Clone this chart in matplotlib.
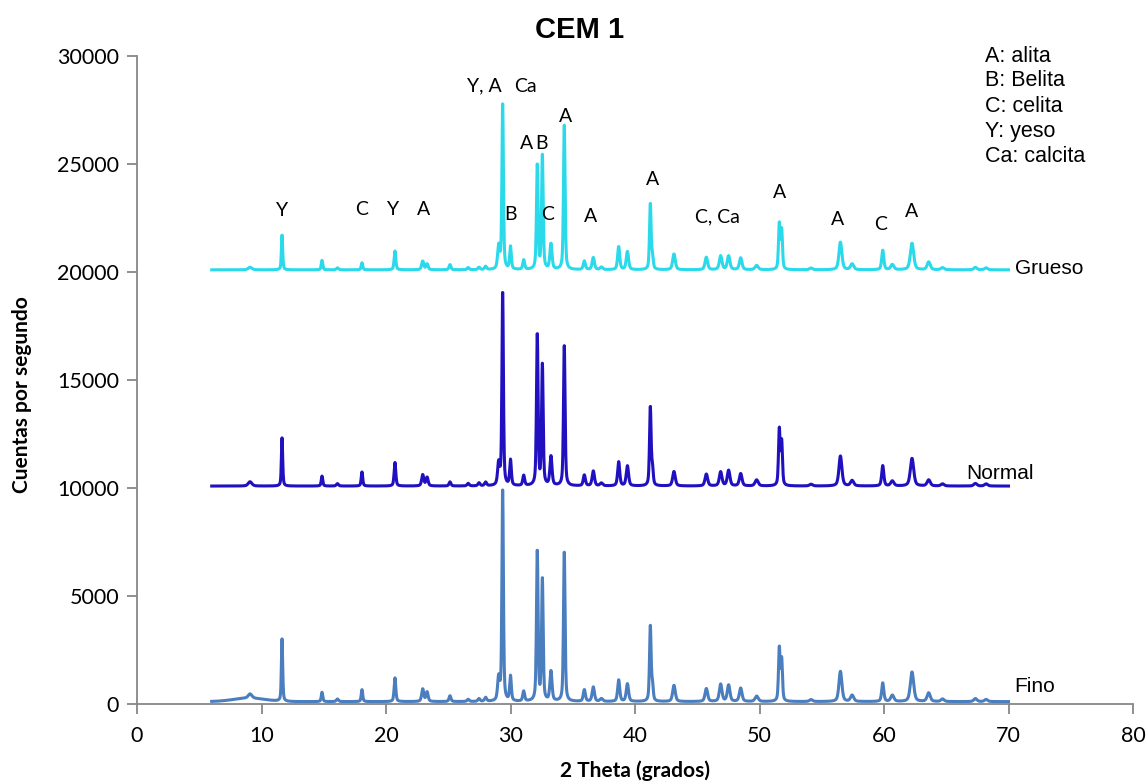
import numpy as np
import matplotlib
matplotlib.use("Agg")
import matplotlib.pyplot as plt

# --- diffraction peaks read for each sample (2theta in degrees, counts above background) ---
peak_pos = [9.08, 11.65, 14.86, 16.1, 18.07, 20.72, 22.95, 23.3, 25.14, 26.6, 27.47, 28.0,
            29.05, 29.37, 30.0, 31.06, 32.15, 32.56, 33.25, 34.32, 35.93, 36.65, 37.3,
            38.69, 39.39, 41.23, 41.4, 43.13, 45.73, 46.88, 47.52, 48.49, 49.77,
            51.59, 51.78, 54.14, 56.5, 57.44, 59.9, 60.67, 62.25, 63.59, 64.7, 67.34, 68.2]
peak_fwhm = [0.35, 0.12, 0.14, 0.2, 0.14, 0.16, 0.2, 0.2, 0.18, 0.2, 0.2, 0.2,
             0.2, 0.14, 0.16, 0.18, 0.15, 0.15, 0.2, 0.15, 0.2, 0.22, 0.25,
             0.2, 0.22, 0.15, 0.15, 0.25, 0.25, 0.25, 0.25, 0.25, 0.3,
             0.15, 0.15, 0.3, 0.28, 0.3, 0.2, 0.3, 0.32, 0.3, 0.3, 0.3, 0.3]

fino_h = [200, 2950, 430, 120, 560, 1100, 580, 440, 270, 100, 130, 180,
          1050, 9900, 1150, 460, 7000, 5600, 1380, 6900, 540, 670, 130,
          1000, 820, 3500, 700, 750, 600, 800, 760, 620, 250,
          2450, 1900, 90, 1400, 290, 860, 290, 1370, 400, 120, 140, 100]
normal_h = [200, 2280, 460, 110, 660, 1090, 520, 400, 190, 120, 140, 170,
            1000, 9050, 1180, 470, 7050, 5550, 1350, 6480, 500, 690, 130,
            1120, 930, 3650, 750, 670, 550, 650, 720, 570, 280,
            2600, 2000, 80, 1390, 250, 940, 230, 1280, 280, 100, 120, 100]
grueso_h = [120, 1640, 440, 90, 330, 870, 400, 270, 240, 100, 110, 150,
            1050, 7750, 1050, 440, 4870, 5250, 1180, 6680, 400, 560, 120,
            1070, 840, 3050, 560, 730, 580, 640, 640, 550, 200,
            2100, 1800, 80, 1280, 270, 900, 240, 1230, 360, 100, 110, 90]

baselines = {"Fino": 110, "Normal": 10090, "Grueso": 20100}
series_heights = {"Fino": fino_h, "Normal": normal_h, "Grueso": grueso_h}
series_colors = {"Fino": "#4A7EBF", "Normal": "#2010C0", "Grueso": "#2AD9EA"}

# broad amorphous background hump at low angle: (center, fwhm, height)
fino_hump = (9.0, 3.0, 160)

# phase labels: (text, 2theta, counts)
phase_labels = [("Y", 11.65, 22870), ("C", 18.0, 22900), ("Y", 20.6, 22900), ("A", 23.05, 22900),
                ("Y, A", 27.9, 28600), ("Ca", 31.2, 28600), ("A", 31.3, 25970), ("B", 32.5, 25970),
                ("A", 34.46, 27220), ("B", 29.96, 22680), ("C", 33.0, 22680), ("A", 36.4, 22590),
                ("A", 41.45, 24260), ("C, Ca", 46.6, 22550), ("A", 51.6, 23700),
                ("A", 56.3, 22450), ("C", 59.7, 22220), ("A", 62.2, 22820)]
phase_key = ["A: alita", "B: Belita", "C: celita", "Y: yeso", "Ca: calcita"]
series_tags = [("Grueso", 70.5, 20150), ("Normal", 66.6, 10690), ("Fino", 70.5, 830)]

x_ticks = [0, 10, 20, 30, 40, 50, 60, 70, 80]
y_ticks = [0, 5000, 10000, 15000, 20000, 25000, 30000]


def pattern(two_theta, heights, base, hump=None):
    y = np.full_like(two_theta, float(base))
    for c, w, h in zip(peak_pos, peak_fwhm, heights):
        d = (two_theta - c) / w
        lor = 1.0 / (1.0 + 4.0 * d * d)
        gau = np.exp(-4.0 * np.log(2) * d * d)
        y += h * (0.5 * lor + 0.5 * gau)
    if hump is not None:
        c, w, h = hump
        y += h * np.exp(-4.0 * np.log(2) * ((two_theta - c) / w) ** 2)
    return y


two_theta = np.linspace(6, 70, 3201)

W, H = 1147, 782
fig = plt.figure(figsize=(W / 100, H / 100), dpi=100)
ax = fig.add_axes([137 / W, 1 - 704 / H, (1133 - 137) / W, (704 - 56) / H])

for name in ["Fino", "Normal", "Grueso"]:
    hump = fino_hump if name == "Fino" else None
    ax.plot(two_theta, pattern(two_theta, series_heights[name], baselines[name], hump),
            color=series_colors[name], lw=2.2, solid_joinstyle="round")

ax.set_xlim(0, 80)
ax.set_ylim(0, 30000)
ax.set_xticks(x_ticks)
ax.set_yticks(y_ticks)
ax.set_xticklabels([str(v) for v in x_ticks])
ax.set_yticklabels([str(v) for v in y_ticks])

for s in ["top", "right"]:
    ax.spines[s].set_visible(False)
for s in ["left", "bottom"]:
    ax.spines[s].set_color("#878787")
    ax.spines[s].set_linewidth(1.3)
ax.tick_params(axis="both", direction="out", length=7, width=1.3, color="#878787",
               labelsize=15.5, labelcolor="black")
ax.tick_params(axis="y", pad=6)
ax.tick_params(axis="x", pad=9)
for lab in ax.get_xticklabels() + ax.get_yticklabels():
    lab.set_family("Lato")

fig.text(635 / W, 1 - 771 / H, "2 Theta (grados)", ha="center", va="center",
         fontsize=15, fontweight="bold", family="Lato")
fig.text(22 / W, 1 - 395 / H, "Cuentas por segundo", ha="center", va="center",
         rotation=90, fontsize=15, fontweight="bold", family="Lato")

fig.text(580 / W, 1 - 30 / H, "CEM 1", ha="center", va="center",
         fontsize=21, fontweight="bold", family="Liberation Sans")

for txt, xv, yv in phase_labels:
    ax.text(xv, yv, txt, ha="center", va="center", fontsize=14, family="Lato")

for txt, xv, yv in series_tags:
    ax.text(xv, yv, txt, ha="left", va="center", fontsize=15, family="Liberation Sans")

for i, line in enumerate(phase_key):
    fig.text(985 / W, 1 - (56 + 25 * i) / H, line, ha="left", va="center",
             fontsize=15.5, family="Liberation Sans")

fig.savefig("out.png", dpi=100)
